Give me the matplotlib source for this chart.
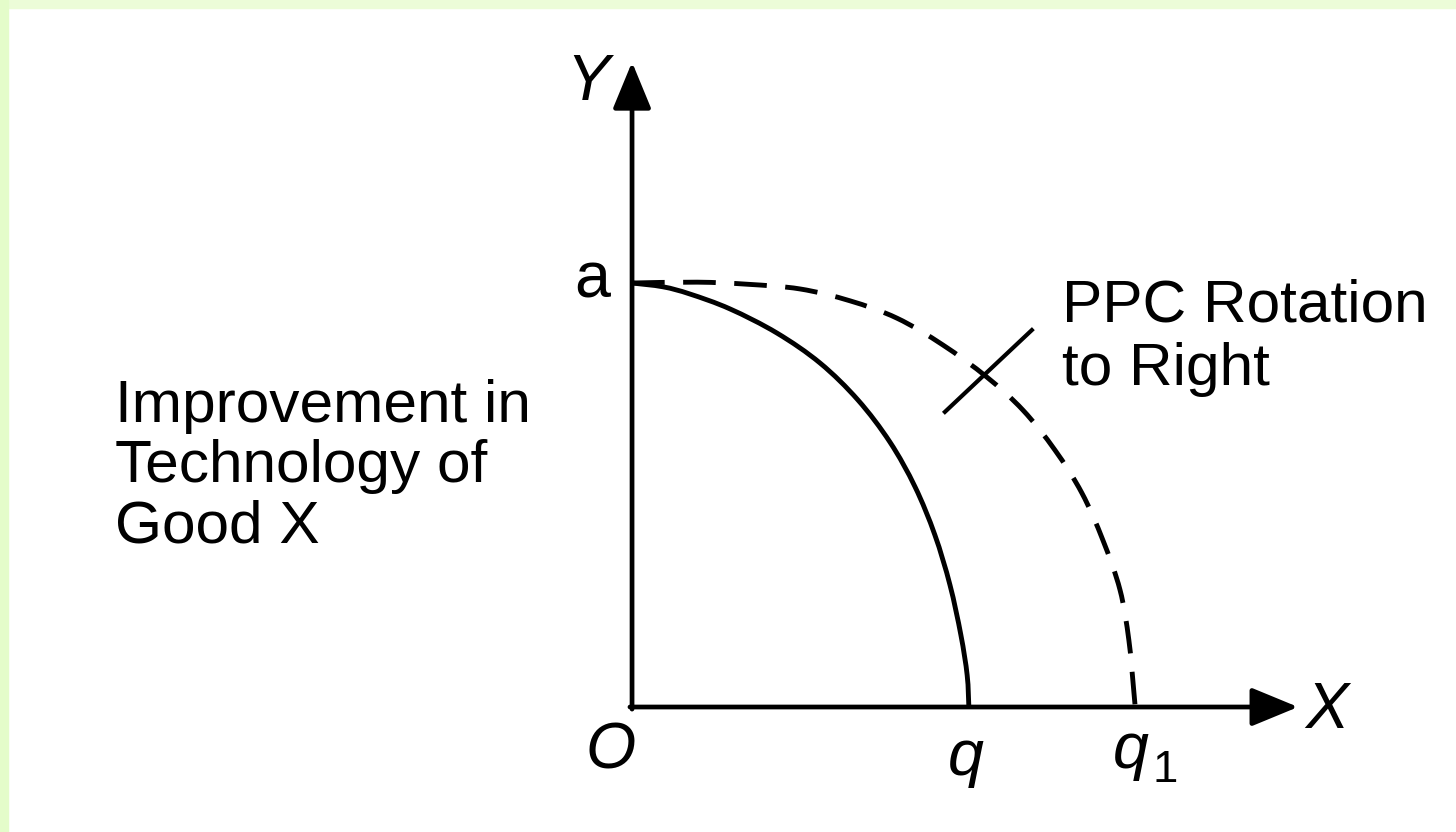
import matplotlib.pyplot as plt
import numpy as np
from matplotlib.patches import Rectangle, PathPatch
from matplotlib.path import Path

# PPC rotation to the right: improvement in technology of good X
# readings in chart units (O at origin, a on Y axis, q and q1 on X axis)

a_level = 10.0
q_level = 8.0
q1_level = 11.98

old_ppc_x = [0, 0.74, 1.38, 2.33, 3.45, 4.48, 5.38, 6.14, 6.74, 7.21, 7.57, 7.83, 7.98, 8.02]
old_ppc_y = [10, 9.91, 9.74, 9.39, 8.82, 8.11, 7.24, 6.25, 5.19, 4.06, 2.88, 1.70, 0.75, 0]

new_ppc_x = [0, 1.55, 2.76, 4.0, 5.19, 6.31, 7.40, 8.45, 9.31, 10.07, 10.71, 11.21, 11.62, 11.83, 11.95, 11.98]
new_ppc_y = [10, 10.02, 9.97, 9.86, 9.58, 9.17, 8.54, 7.78, 7.0, 6.06, 5.05, 3.94, 2.76, 1.58, 0.35, 0]

pointer_x = [7.45, 9.52]
pointer_y = [6.96, 8.89]

side_lines = ['Improvement in', 'Technology of', 'Good X']
note_lines = ['PPC Rotation', 'to Right']

plt.rcParams['font.family'] = ['Liberation Sans', 'DejaVu Sans']
plt.rcParams['lines.scale_dashes'] = False
fs = 43.5


def smooth_path(xs, ys):
    # catmull-rom through the read points, drawn as cubic bezier segments
    p = np.column_stack([xs, ys]).astype(float)
    verts = [p[0]]
    codes = [Path.MOVETO]
    for i in range(len(p) - 1):
        p0 = p[i - 1] if i > 0 else p[i]
        p3 = p[i + 2] if i + 2 < len(p) else p[i + 1]
        c1 = p[i] + (p[i + 1] - p0) / 6
        c2 = p[i + 1] - (p3 - p[i]) / 6
        verts += [c1, c2, p[i + 1]]
        codes += [Path.CURVE4] * 3
    return Path(verts, codes)


fig = plt.figure(figsize=(14.56, 8.32), dpi=100)
ax = fig.add_axes([0, 0, 1, 1])
ax.set_xlim(-15.05, 19.62)
ax.set_ylim(-2.948, 16.675)
ax.axis('off')

# light green frame on top and left
fig.patches.append(Rectangle((0, 1 - 8 / 832), 1, 8 / 832, transform=fig.transFigure,
                             color='#ecfcd8', zorder=0))
fig.patches.append(Rectangle((0, 0), 8 / 1456, 1, transform=fig.transFigure,
                             color='#e4fcca', zorder=0))

# axes with arrows
arrow = dict(arrowstyle='-|>,head_length=0.8,head_width=0.33', lw=3.4, color='black',
             mutation_scale=36, shrinkA=0, shrinkB=0)
ax.annotate('', xy=(0, 15.21), xytext=(0, -0.05), arrowprops=arrow)
ax.annotate('', xy=(15.86, 0), xytext=(-0.05, 0), arrowprops=arrow)

ax.add_patch(PathPatch(smooth_path(old_ppc_x, old_ppc_y), fill=False, lw=3.5,
                       edgecolor='black', capstyle='butt'))
ax.add_patch(PathPatch(smooth_path(new_ppc_x, new_ppc_y), fill=False, lw=3.5,
                       edgecolor='black', linestyle=(0, (23.5, 13.3)), capstyle='butt'))
ax.plot(pointer_x, pointer_y, color='black', lw=3.0)

lab = dict(fontsize=fs + 3, style='italic', color='black')
ax.text(-1.05, 14.72, 'Y', ha='center', va='center', **lab)
ax.text(-0.95, a_level + 0.07, 'a', ha='center', va='center', fontsize=fs + 3)
ax.text(-0.52, -1.06, 'O', ha='center', va='center', **lab)
ax.text(q_level - 0.05, -1.6, 'q', ha='center', va='baseline', **lab)
ax.text(q1_level - 0.1, -1.45, 'q', ha='center', va='baseline', **lab)
ax.text(q1_level + 0.72, -1.78, '1', ha='center', va='baseline', fontsize=fs * 0.75)
ax.text(16.55, -0.09, 'X', ha='center', va='center', **lab)

for i, line in enumerate(side_lines):
    ax.text(-12.31, 6.72 - i * 1.42, line, fontsize=fs, ha='left', va='baseline')

for i, line in enumerate(note_lines):
    ax.text(10.24, 9.1 - i * 1.5, line, fontsize=fs, ha='left', va='baseline')

fig.savefig('out.png', dpi=100, facecolor='white')
